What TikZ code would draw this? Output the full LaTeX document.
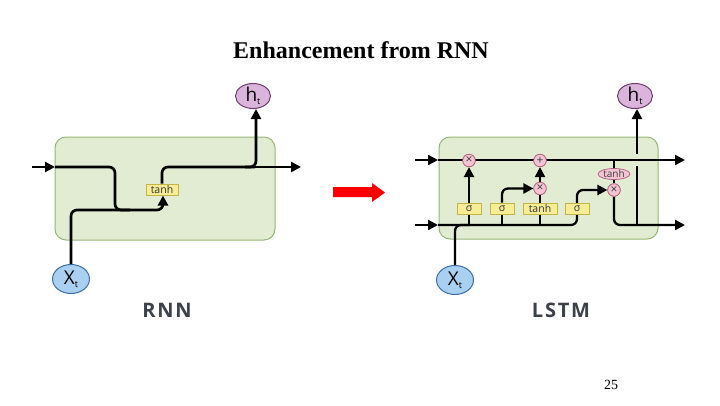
\documentclass[tikz,border=0pt]{standalone}
\usepackage{fontspec}
\setmainfont{Liberation Serif}
\newfontfamily\osans{Open Sans}
\newfontfamily\lblfont[LetterSpace=9]{Open Sans}
\usetikzlibrary{arrows.meta,shapes.geometric}
\definecolor{boxfill}{RGB}{226,236,211}
\definecolor{boxline}{RGB}{150,182,118}
\definecolor{gatefill}{RGB}{246,237,150}
\definecolor{gateline}{RGB}{196,180,70}
\definecolor{pinkfill}{RGB}{243,196,212}
\definecolor{pinkline}{RGB}{176,96,122}
\definecolor{xfill}{RGB}{169,208,240}
\definecolor{xline}{RGB}{60,111,163}
\definecolor{hfill}{RGB}{218,180,218}
\definecolor{hline}{RGB}{110,61,112}
\definecolor{lbl}{RGB}{59,64,73}
\tikzset{
  cellbox/.style={fill=boxfill,draw=boxline,line width=1pt,rounded corners=11pt},
  wire/.style={line width=2.7pt,black},
  lwire/.style={line width=2.3pt,black},
  tip/.style={-{Triangle[length=10pt,width=10pt]}},
  gate/.style={rectangle,fill=gatefill,draw=gateline,line width=0.7pt,inner sep=0pt,minimum height=11pt,font=\osans\fontsize{10.5}{10.5}\selectfont,text=black!80},
  op/.style={circle,fill=pinkfill,draw=pinkline,line width=0.7pt,inner sep=0pt,minimum size=12.5pt,font=\osans\fontsize{12}{12}\selectfont,text=black!75},
  xnode/.style={ellipse,fill=xfill,draw=xline,line width=1pt,inner sep=0pt,minimum width=37pt,minimum height=29pt,font=\osans\fontsize{19}{19}\selectfont},
  hnode/.style={ellipse,fill=hfill,draw=hline,line width=1pt,inner sep=0pt,minimum width=35pt,minimum height=25pt,font=\osans\fontsize{19}{19}\selectfont},
  caption/.style={font=\lblfont\bfseries\fontsize{20}{20}\selectfont,text=lbl}
}
\newcommand{\subt}{\raisebox{-0.25ex}{\fontsize{9}{9}\selectfont t}}
\begin{document}
\begin{tikzpicture}[x=1pt,y=-1pt]
\useasboundingbox (0,0) rectangle (720,405);
\fill[white] (0,0) rectangle (720,405);
% title
\node[font=\bfseries\fontsize{24}{28}\selectfont] (title) at (361,50) {Enhancement from RNN};
\node[font=\fontsize{14}{16}\selectfont] (page) at (611,385) {25};

% ================= RNN =================
\draw[cellbox] (55,137) rectangle (275,240);
\coordinate (rin) at (32,167);
\coordinate (rinE) at (55,167);
\coordinate (rjoin) at (130,210);
\coordinate (rout) at (301,167);
\coordinate (rhb) at (245,167);
\node[gate,minimum width=32pt] (rtanh) at (162,189.5) {tanh};
\node[xnode] (rx) at (71,279) {X\subt};
\node[hnode] (rh) at (253,96) {h\subt};
\draw[wire,tip] (rin) -- (rinE);
\draw[wire,rounded corners=6pt] (rinE) -- (115,167) -- (115,210) -- (rjoin);
\draw[wire,tip,rounded corners=6pt] (rx.north) -- (71,210) -- (163,210) -- (163,195.5);
\draw[wire,rounded corners=6pt] (rtanh.north) -- (162,167) -- (255,167);
\draw[wire,tip] (250,167) -- (rout);
\draw[wire,tip,rounded corners=6pt] (rhb) -- (256,167) -- (256,155) -- (256,109) coordinate (rhtip);
\node[caption] (rnnlbl) at (167,310) {RNN};

% ================= red arrow =================
\fill[red] (333,187) -- (372,187) -- (372,183) -- (385,192.5) -- (372,202) -- (372,197) -- (333,197) -- cycle;

% ================= LSTM =================
\draw[cellbox] (439,137) rectangle (658,239);
\coordinate (ltin) at (415,160);
\coordinate (ltinE) at (438,160);
\coordinate (ltout) at (685,160);
\coordinate (lbin) at (415,225);
\coordinate (lbinE) at (438,225);
\coordinate (lbout) at (685,225);
\node[op] (fx) at (469,160.5) {×};
\node[op] (pl) at (540,160.5) {+};
\node[op] (ix) at (540,188.5) {×};
\node[op] (ox) at (614,190) {×};
\node[ellipse,fill=pinkfill,draw=pinkline,line width=0.7pt,inner sep=0pt,minimum width=32pt,minimum height=11pt,font=\osans\fontsize{10}{10}\selectfont,text=black!75] (te) at (614,174) {tanh};
\node[xnode] (lx) at (455,280) {X\subt};
\node[hnode] (lh) at (635,96) {h\subt};

% wires
\draw[lwire,tip] (ltin) -- (ltinE);
\draw[lwire,tip] (ltinE) -- (ltout);
\draw[lwire,tip] (lbin) -- (lbinE);
\draw[lwire,tip,rounded corners=6pt] (lbinE) -- (577,225) -- (577,190) -- (ox.west);
\draw[lwire,rounded corners=6pt] (lx.north) -- (455,225) -- (470,225);
\draw[lwire] (469,225) -- (469,208);
\draw[lwire] (502,225) -- (502,208);
\draw[lwire] (540,225) -- (540,208);
% gates
\node[gate,minimum width=24pt] (s1) at (469,208.5) {σ};
\node[gate,minimum width=24pt] (s2) at (502,208.5) {σ};
\node[gate,minimum width=34pt] (lt) at (540,208.5) {tanh};
\node[gate,minimum width=24pt] (s3) at (577,208.5) {σ};
\draw[lwire,tip] (s1.north) -- (fx.south);
\draw[lwire,tip,rounded corners=6pt] (s2.north) -- (502,188.5) -- (ix.west);
\draw[lwire] (lt.north) -- (ix.south);
\draw[lwire,tip] (ix.north) -- (pl.south);
\draw[lwire] (614,161) -- (te.north);
\draw[lwire] (te.south) -- (ox.north);
\draw[lwire,tip,rounded corners=6pt] (ox.south) -- (614,225) -- (lbout);
\coordinate (vb) at (637,225);
\coordinate (vgap1) at (637,166);
\coordinate (vgap2) at (637,154);
\draw[lwire] (vb) -- (vgap1);
\draw[lwire,tip] (vgap2) -- (637,109) coordinate (lhtip);
% redraw ops on top of wires
\node[op] at (fx) {×};
\node[op] at (pl) {+};
\node[op] at (ix) {×};
\node[op] at (ox) {×};
\node[caption] (lstmlbl) at (561,310) {LSTM};
\end{tikzpicture}
\end{document}
